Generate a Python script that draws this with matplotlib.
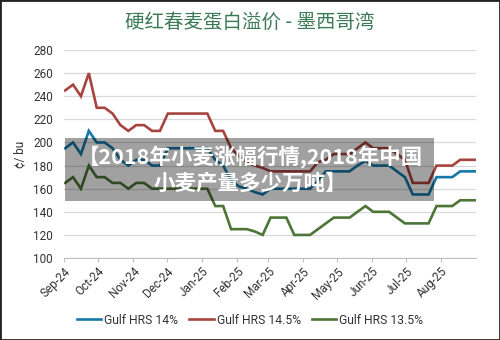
import numpy as np
import pandas as pd
import matplotlib
matplotlib.use('Agg')
from matplotlib import pyplot as plt, dates as mdates
from matplotlib.patches import Rectangle

plt.rcParams['font.family'] = ['Roboto', 'Noto Sans CJK SC', 'DejaVu Sans']

# weekly premiums, cents per bushel
dates = pd.date_range('2024-09-02', periods=53, freq='7D')
hrs_14 = [195, 200, 190, 210, 200, 200, 195, 185, 180, 185, 185, 180, 180,
          195, 195, 195, 195, 195, 195, 185, 180, 167, 162, 160, 157, 155,
          160, 160, 160, 160, 160, 160, 167, 175, 175, 175, 175, 180, 184,
          180, 180, 180, 175, 170, 155, 155, 155, 170, 170, 170, 175, 175, 175]
hrs_145 = [245, 250, 240, 260, 230, 230, 225, 215, 210, 215, 215, 210, 210,
           225, 225, 225, 225, 225, 225, 210, 210, 195, 188, 183, 180, 178,
           175, 175, 175, 175, 175, 175, 183, 185, 190, 190, 190, 195, 200,
           195, 195, 195, 190, 185, 165, 165, 165, 180, 180, 180, 185, 185, 185]
hrs_135 = [165, 170, 160, 180, 170, 170, 165, 165, 160, 165, 165, 160, 160,
           160, 160, 160, 160, 160, 160, 145, 145, 125, 125, 125, 123, 120,
           135, 135, 135, 120, 120, 120, 125, 130, 135, 135, 135, 140, 145,
           140, 140, 140, 135, 130, 130, 130, 130, 145, 145, 145, 150, 150, 150]

series = [('Gulf HRS 14%', hrs_14, '#1479a8'),
          ('Gulf HRS 14.5%', hrs_145, '#a8443f'),
          ('Gulf HRS 13.5%', hrs_135, '#4c7536')]

title = '硬红春麦蛋白溢价 - 墨西哥湾'
banner = '【2018年小麦涨幅行情,2018年中国\n小麦产量多少万吨】'

fig = plt.figure(figsize=(5, 3.4), dpi=100)
ax = fig.add_axes([0.128, 0.241, 0.824, 0.612])

for name, vals, col in series:
    ax.plot(dates, vals, color=col, lw=1.9, label=name, solid_joinstyle='miter')

ax.set_ylim(100, 280)
ax.set_yticks(np.arange(100, 281, 20))
ax.set_xlim(pd.Timestamp('2024-09-01'), pd.Timestamp('2025-09-01'))
ax.set_xticks(pd.date_range('2024-09-01', '2025-08-01', freq='MS'))
ax.xaxis.set_major_formatter(mdates.DateFormatter('%b-%y'))
plt.setp(ax.get_xticklabels(), rotation=45, ha='right', rotation_mode='anchor')
ax.tick_params(axis='x', length=3, color='#bfbfbf', labelsize=8.5, labelcolor='#333333', pad=2)
ax.tick_params(axis='y', length=0, labelsize=8.5, labelcolor='#333333', pad=8)
ax.grid(axis='y', color='#d9d9d9', lw=0.9)
ax.set_axisbelow(True)
for s in ['top', 'right', 'left']:
    ax.spines[s].set_visible(False)
ax.spines['bottom'].set_color('#bfbfbf')
ax.set_ylabel('¢/ bu', fontsize=8.5, color='#333333', labelpad=5)

fig.text(0.5, 0.935, title, ha='center', va='center', fontsize=14,
         color='#3b7a57', family=['Noto Sans CJK SC', 'DejaVu Sans'])

fig.legend(loc='center', bbox_to_anchor=(0.5, 1 - 320 / 340), ncol=3, frameon=False,
           fontsize=8.7, handlelength=2.0, columnspacing=0.9, handletextpad=0.25,
           labelcolor='#333333')

# watermark banner on top of the chart
fig.add_artist(Rectangle((0.130, 1 - 201 / 340), 0.738, 63 / 340,
                         transform=fig.transFigure, facecolor='black',
                         alpha=0.37, lw=0, zorder=5))
fig.text(0.5, 1 - 169.5 / 340, banner, ha='center', va='center', fontsize=15.5,
         color='white', fontweight='heavy', linespacing=1.2, zorder=6,
         family=['Noto Sans CJK SC', 'DejaVu Sans'])

fig.add_artist(Rectangle((0, 0), 1, 1, transform=fig.transFigure,
                         fill=False, edgecolor='#222222', lw=2, zorder=10))

fig.savefig('out.png', dpi=100)
